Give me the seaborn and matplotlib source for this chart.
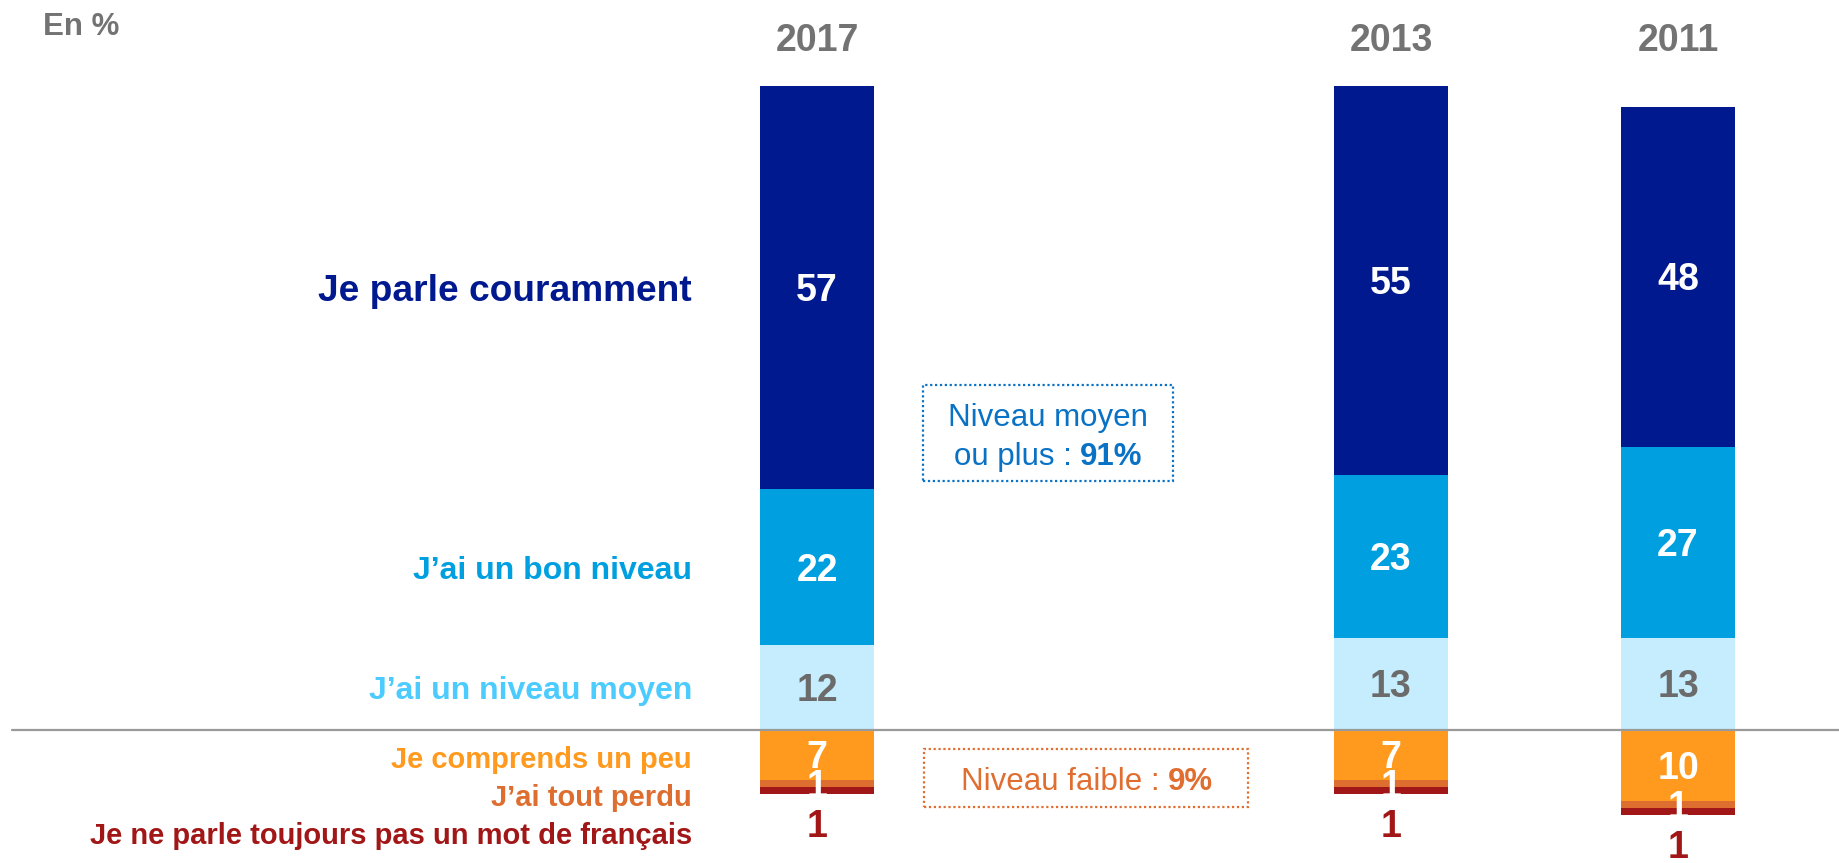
import numpy as np
import pandas as pd
import seaborn as sns
import matplotlib.pyplot as plt
from matplotlib.patches import Rectangle

# ---------------- data ----------------
years = ["2017", "2013", "2011"]
year_pos = [0, 2, 3]
courant = [57, 55, 48]      # Je parle couramment
bon = [22, 23, 27]          # J'ai un bon niveau
moyen = [12, 13, 13]        # J'ai un niveau moyen
comprends = [7, 7, 10]      # Je comprends un peu
perdu = [1, 1, 1]           # J'ai tout perdu
aucun = [1, 1, 1]           # Je ne parle toujours pas un mot de français

cat_pos = ["Je parle couramment", "J\u2019ai un bon niveau", "J\u2019ai un niveau moyen"]
cat_neg = ["Je comprends un peu", "J\u2019ai tout perdu", "Je ne parle toujours pas un mot de français"]
box_high = ("Niveau moyen", "ou plus : ", "91%")
box_low = ("Niveau faible : ", "9%")

# ---------------- style ----------------
C_DARK = "#00198F"
C_MID = "#009FDF"
C_LIGHT = "#C5EDFD"
C_ORANGE = "#FF9A1E"
C_ORANGE2 = "#DD6E30"
C_RED = "#A11616"
LBL_COLORS_POS = [C_DARK, "#00A0E0", "#4CCBFF"]
LBL_SIZES_POS = [26.7, 23, 23]
LBL_COLORS_NEG = [C_ORANGE, C_ORANGE2, C_RED]

sns.set_theme(style="white")
plt.rcParams["font.family"] = ["Liberation Sans", "DejaVu Sans"]

W, H, DPI = 1839, 863, 100
fig = plt.figure(figsize=(W / DPI, H / DPI), dpi=DPI)
ax = fig.add_axes([0, 0, 1, 1])

PX, X0PX = 287.0, 817.0
BASE_PY, PY = 730.0, 7.08
def px2x(px): return (px - X0PX) / PX
def py2y(py): return (BASE_PY - py) / PY

df = pd.DataFrame({"pos": year_pos, "courant": courant, "bon": bon, "moyen": moyen,
                   "comprends": comprends, "perdu": perdu, "aucun": aucun})
df["p1"] = df["moyen"]
df["p2"] = df["p1"] + df["bon"]
df["p3"] = df["p2"] + df["courant"]
df["n1"] = -df["comprends"]
df["n2"] = df["n1"] - df["perdu"]
df["n3"] = df["n2"] - df["aucun"]

for col, c in [("p3", C_DARK), ("p2", C_MID), ("p1", C_LIGHT),
               ("n3", C_RED), ("n2", C_ORANGE2), ("n1", C_ORANGE)]:
    sns.barplot(data=df, x="pos", y=col, native_scale=True, orient="x", width=0.4,
                color=c, saturation=1, errorbar=None, ax=ax, linewidth=0)

ax.set_xlim(px2x(0), px2x(W))
ax.set_ylim(py2y(H), py2y(0))
ax.set_axis_off()

# baseline
ax.axhline(0, xmin=12 / W, xmax=1, color="#9A9A9A", lw=1.6)

def cap_h(fs):  # cap height in data units
    return fs * DPI / 72 * 0.716 / PY

FS_VAL = 27
FS_CAT_NEG = 21
FS_BOX = 22.5

# value labels
for i, r in df.iterrows():
    x = r["pos"]
    segs = [((r["p2"] + r["p3"]) / 2, r["courant"], "white"),
            ((r["p1"] + r["p2"]) / 2, r["bon"], "white"),
            (r["p1"] / 2, r["moyen"], "#6B6B6B"),
            (r["n1"] / 2, r["comprends"], "white"),
            ((r["n1"] + r["n2"]) / 2, r["perdu"], "white"),
            (r["n3"] - 4.2, r["aucun"], C_RED)]
    for yc, v, col in segs:
        ax.text(x, yc - cap_h(FS_VAL) / 2, f"{v:g}", ha="center", va="baseline",
                fontsize=FS_VAL, fontweight="bold", color=col)
    ax.text(x, py2y(51), years[i], ha="center", va="baseline",
            fontsize=FS_VAL, fontweight="bold", color="#737373")

# category labels (aligned with 2017 segments)
r0 = df.iloc[0]
xl = px2x(692)
pos_centers = [(r0["p2"] + r0["p3"]) / 2, (r0["p1"] + r0["p2"]) / 2, r0["p1"] / 2]
for lab, yc, col, fs in zip(cat_pos, pos_centers, LBL_COLORS_POS, LBL_SIZES_POS):
    ax.text(xl, yc - cap_h(fs) / 2, lab, ha="right", va="baseline",
            fontsize=fs, fontweight="bold", color=col)
for lab, py, col in zip(cat_neg, [768, 806, 844], LBL_COLORS_NEG):
    ax.text(xl, py2y(py), lab, ha="right", va="baseline",
            fontsize=FS_CAT_NEG, fontweight="bold", color=col)

ax.text(px2x(43), py2y(35), "En %", ha="left", va="baseline",
        fontsize=22.5, fontweight="bold", color="#737373")

# annotation boxes
def dotted_box(x1, x2, y1, y2, col):
    ax.add_patch(Rectangle((px2x(x1), py2y(y2)), px2x(x2) - px2x(x1), py2y(y1) - py2y(y2),
                           fill=False, edgecolor=col, lw=1.6, linestyle=(0, (1, 1.2))))

B1 = "#0A72C4"
B2 = "#E06E30"
dotted_box(923, 1173, 385, 481, B1)
dotted_box(924, 1248, 749, 807, B2)

renderer = fig.canvas.get_renderer()

def mixed_line(cx_px, base_py, parts, col):
    texts = []
    for s, w in parts:
        t = ax.text(0, py2y(base_py), s, ha="left", va="baseline", fontsize=FS_BOX,
                    fontweight=w, color=col)
        texts.append(t)
    widths = [t.get_window_extent(renderer).width for t in texts]
    total = sum(widths)
    left = cx_px - total / 2
    for t, w in zip(texts, widths):
        t.set_x(px2x(left))
        left += w

mixed_line(1048, 426, [(box_high[0], "normal")], B1)
mixed_line(1048, 465, [(box_high[1], "normal"), (box_high[2], "bold")], B1)
mixed_line(1087, 790, [(box_low[0], "normal"), (box_low[1], "bold")], B2)

fig.savefig("out.png", dpi=DPI, facecolor="white")
